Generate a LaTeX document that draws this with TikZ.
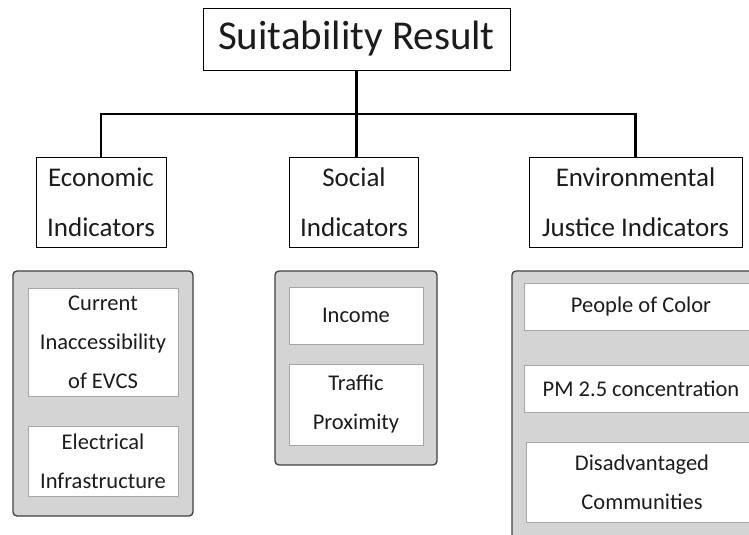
\documentclass[tikz,border=0pt]{standalone}
\usepackage{fontspec}
\setmainfont{Carlito}
\usepackage{xcolor}
\usepackage{tikz}
\definecolor{panelgray}{HTML}{D4D4D4}
\definecolor{itemline}{HTML}{A6A6A6}
\definecolor{inkgray}{HTML}{1C1C1C}
\tikzset{
    Head/.style = {draw,thick,text=inkgray,align=center,inner sep=0pt,
        minimum width=#1,minimum height=62pt,font=\fontsize{41}{49}\selectfont},
    Group/.style = {draw,thick,text=inkgray,align=center,inner sep=0pt,
        minimum width=#1,minimum height=90pt,font=\fontsize{27}{50}\selectfont},
    Panel/.style n args = {2}{draw=black!75,line width=1.3pt,fill=panelgray,
        rounded corners=4pt,minimum width=#1,minimum height=#2},
    Item/.style n args = {2}{draw=itemline,fill=white,text=inkgray,align=center,
        inner sep=0pt,minimum width=#1,minimum height=#2,
        font=\fontsize{22.5}{39}\selectfont},
    Link/.style = {line width=2.6pt}
}

\begin{document}
\begin{tikzpicture}[x=1pt,y=-1pt]
        \useasboundingbox (0,0) rectangle (749,535);
        \clip (0,0) rectangle (749,535);
        % top and the three groups
        \node[Head=307pt] (result) at (356.5,39) {Suitability Result};
        \node[Group=130pt] (econ) at (101,202) {Economic\\Indicators};
        \node[Group=129pt] (social) at (354,202) {Social\\Indicators};
        \node[Group=213pt] (env) at (635.5,202) {Environmental\\Justice Indicators};
        \coordinate (bar) at (356.5,114);
        \draw[Link] (result.south) -- (result.south |- social.north);
        \draw[Link] (econ.north) |- (bar) -| (env.north);
        % panels with their indicators
        \node[Panel={180pt}{245pt}] (econpanel) at (103,393.5) {};
        \node[Item={150pt}{108pt}] (access) at (103,342) {Current\\Inaccessibility\\of EVCS};
        \node[Item={150pt}{70pt}] (grid) at (103,461) {Electrical\\Infrastructure};
        \node[Panel={162pt}{194pt}] (socialpanel) at (356,368) {};
        \node[Item={134pt}{57pt}] (income) at (356,315.5) {Income};
        \node[Item={134pt}{81pt}] (traffic) at (356,404.5) {Traffic\\Proximity};
        \node[Panel={258pt}{284pt}] (envpanel) at (641,413) {};
        \node[Item={234pt}{47pt}] (color) at (641,306.5) {People of Color};
        \node[Item={234pt}{47pt}] (pm) at (641,388.5) {PM 2.5 concentration};
        \node[Item={232pt}{80pt}] (disadv) at (642,482) {Disadvantaged\\Communities};
        \end{tikzpicture}
\end{document}
